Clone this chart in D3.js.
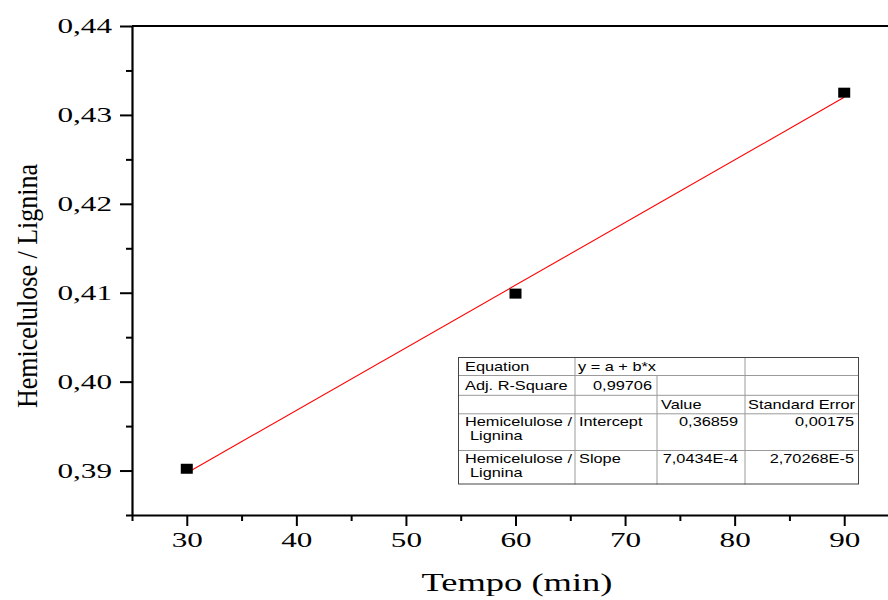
<!DOCTYPE html>
<html>
<head>
<meta charset="utf-8">
<script src="https://cdn.jsdelivr.net/npm/d3@7"></script>
<style>
  body { margin: 0; background: #fff; }
  svg { display: block; }
</style>
</head>
<body>
<svg id="chart" width="888" height="600"></svg>
<script>
// measured points
const timeMin = [30, 60, 90];
const hemiLignina = [0.3902, 0.4099, 0.4325];

// axis ticks
const xTicks = [30, 40, 50, 60, 70, 80, 90];
const xMinorTicks = [25, 35, 45, 55, 65, 75, 85, 95];
const yTicks = [0.39, 0.40, 0.41, 0.42, 0.43, 0.44];
const yMinorTicks = [0.385, 0.395, 0.405, 0.415, 0.425, 0.435];

// linear fit report
const seriesName = "Hemicelulose / Lignina";
const fitModel = "y = a + b*x";
const adjRSquare = 0.99706;
const fitTerms = ["Intercept", "Slope"];
const fitValues = [0.36859, 7.0434e-4];
const fitErrors = [0.00175, 2.70268e-5];

const svg = d3.select("#chart");
const sx = 1.45; // serif labels are drawn wide

const x = d3.scaleLinear().domain([25, 95]).range([132, 899]);
const y = d3.scaleLinear().domain([0.385, 0.44]).range([515, 26]);

const comma = d => d3.format(".2f")(d).replace(".", ",");

// frame (top and right edges)
svg.append("path")
    .attr("d", `M${x(25)},${y(0.44)}H${x(95)}V${y(0.385)}`)
    .attr("fill", "none")
    .attr("stroke", "#000")
    .attr("stroke-width", 2);

// y axis
const gy = svg.append("g")
    .attr("transform", `translate(${x(25)},0)`)
    .call(d3.axisLeft(y).tickValues(yTicks).tickFormat(comma).tickSize(12).tickSizeOuter(0));
svg.append("g")
    .attr("transform", `translate(${x(25)},0)`)
    .call(d3.axisLeft(y).tickValues(yMinorTicks).tickFormat("").tickSize(6).tickSizeOuter(0))
    .select(".domain").remove();

// x axis
const gx = svg.append("g")
    .attr("transform", `translate(0,${y(0.385)})`)
    .call(d3.axisBottom(x).tickValues(xTicks).tickSize(11).tickSizeOuter(0));
svg.append("g")
    .attr("transform", `translate(0,${y(0.385)})`)
    .call(d3.axisBottom(x).tickValues(xMinorTicks).tickFormat("").tickSize(6).tickSizeOuter(0))
    .select(".domain").remove();

svg.selectAll(".domain").attr("stroke", "#000").attr("stroke-width", 2.2);
svg.selectAll(".tick line").attr("stroke", "#000").attr("stroke-width", 2);

gy.selectAll(".tick text")
    .attr("font-family", "Liberation Serif, Times New Roman, serif")
    .attr("font-size", 21.5)
    .attr("fill", "#000")
    .attr("x", -20 / sx)
    .attr("dy", "0.3em")
    .attr("transform", `scale(${sx},1)`);

gx.selectAll(".tick text")
    .attr("font-family", "Liberation Serif, Times New Roman, serif")
    .attr("font-size", 21.5)
    .attr("fill", "#000")
    .attr("y", 32)
    .attr("dy", 0)
    .attr("transform", `scale(${sx},1)`);

// axis titles
svg.append("text")
    .attr("transform", `translate(517,591) scale(1.46,1)`)
    .attr("text-anchor", "middle")
    .attr("font-family", "Liberation Serif, Times New Roman, serif")
    .attr("font-size", 25)
    .text("Tempo (min)");

svg.append("text")
    .attr("transform", `translate(37,286) rotate(-90) scale(1,1.16)`)
    .attr("text-anchor", "middle")
    .attr("font-family", "Liberation Serif, Times New Roman, serif")
    .attr("font-size", 26)
    .text(seriesName);

// fitted line
const fitY = t => fitValues[0] + fitValues[1] * t;
const fitLine = d3.line().x(d => x(d)).y(d => y(fitY(d)));
svg.append("path")
    .datum(d3.extent(timeMin))
    .attr("d", fitLine)
    .attr("fill", "none")
    .attr("stroke", "#ff0000")
    .attr("stroke-width", 1.1);

// data points
svg.append("g")
    .selectAll("rect")
    .data(timeMin.map((t, i) => [t, hemiLignina[i]]))
    .join("rect")
    .attr("x", d => x(d[0]) - 6)
    .attr("y", d => y(d[1]) - 5)
    .attr("width", 12)
    .attr("height", 10)
    .attr("fill", "#000");

// fit report table
const originNum = v => Math.abs(v) < 1e-3
    ? v.toExponential().replace("e", "E").replace("+", "").replace(".", ",")
    : String(v).replace(".", ",");

const colX = [458, 575, 657, 745, 859];
const rowY = [357, 375.5, 395.3, 413.8, 450.5, 484.5];
const tsx = 1.2;

const tbl = svg.append("g");
tbl.append("rect")
    .attr("x", colX[0]).attr("y", rowY[0])
    .attr("width", colX[4] - colX[0]).attr("height", rowY[5] - rowY[0])
    .attr("fill", "#fff");

// horizontal rules
rowY.slice(1, -1).forEach(ry => {
    tbl.append("line")
        .attr("x1", colX[0]).attr("x2", colX[4])
        .attr("y1", ry).attr("y2", ry)
        .attr("stroke", "#9a9a9a");
});
// vertical rules (the model spans two columns on the first row)
[[colX[1], rowY[0]], [colX[2], rowY[1]], [colX[3], rowY[0]]].forEach(([cx, y0]) => {
    tbl.append("line")
        .attr("x1", cx).attr("x2", cx)
        .attr("y1", y0).attr("y2", rowY[5])
        .attr("stroke", "#9a9a9a");
});
tbl.append("rect")
    .attr("x", colX[0] + 0.5).attr("y", rowY[0] + 0.5)
    .attr("width", colX[4] - colX[0] - 1).attr("height", rowY[5] - rowY[0] - 1)
    .attr("fill", "none")
    .attr("stroke", "#444");

function cell(txt, px, py, anchor) {
    tbl.append("text")
        .attr("transform", `translate(${px},${py}) scale(${tsx},1)`)
        .attr("text-anchor", anchor || "start")
        .attr("font-family", "Liberation Sans, Arial, sans-serif")
        .attr("font-size", 13.6)
        .attr("fill", "#000")
        .text(txt);
}

const [sLine1, sLine2] = seriesName.split(" / ");

cell("Equation", colX[0] + 7, rowY[0] + 14);
cell(fitModel, colX[1] + 3, rowY[0] + 14);
cell("Adj. R-Square", colX[0] + 7, rowY[1] + 14);
cell(originNum(adjRSquare), colX[2] - 5, rowY[1] + 14, "end");
cell("Value", colX[2] + 4, rowY[2] + 14);
cell("Standard Error", colX[3] + 3, rowY[2] + 14);

fitTerms.forEach((term, i) => {
    const top = rowY[3 + i];
    cell(sLine1 + " /", colX[0] + 7, top + 12.5);
    cell(sLine2, colX[0] + 12, top + 26.5);
    cell(term, colX[1] + 4, top + 12.5);
    cell(originNum(fitValues[i]), colX[3] - 7, top + 12.5, "end");
    cell(originNum(fitErrors[i]), colX[4] - 5, top + 12.5, "end");
});
</script>
</body>
</html>
